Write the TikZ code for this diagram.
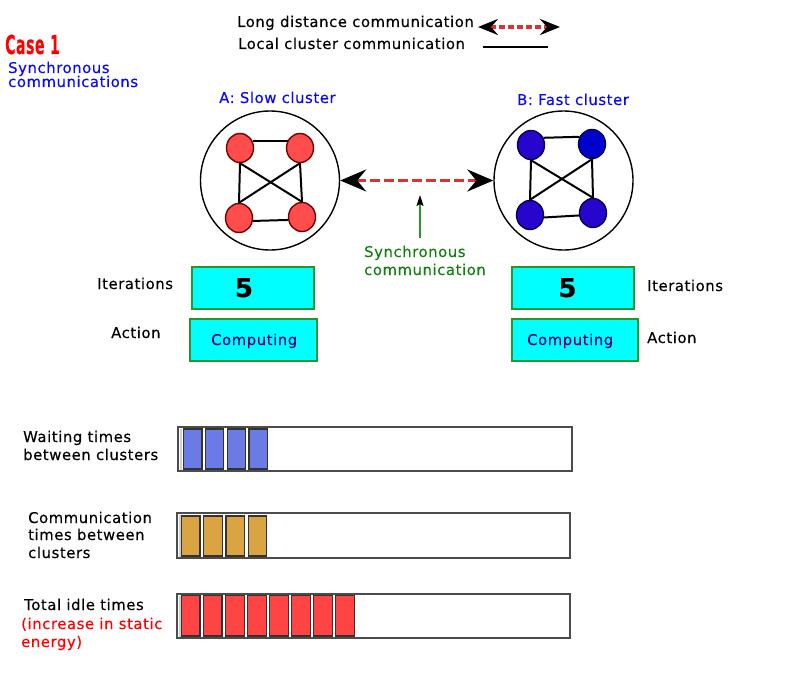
\documentclass[tikz,border=0pt]{standalone}
\usepackage{fontspec}
\setmainfont{DejaVu Sans}[LetterSpace=4,FakeBold=0.35]
\usetikzlibrary{arrows.meta,shapes.geometric}
\definecolor{txtblue}{RGB}{10,10,240}
\definecolor{txtgreen}{RGB}{17,128,17}
\definecolor{compblue}{RGB}{0,0,140}
\definecolor{dashred}{RGB}{220,50,50}
\definecolor{boxgreen}{RGB}{40,150,40}
\definecolor{boxcyan}{RGB}{0,255,255}
\definecolor{nodered}{RGB}{255,76,76}
\definecolor{noderedb}{RGB}{120,0,0}
\definecolor{nodeblueA}{RGB}{40,5,204}
\definecolor{nodeblueB}{RGB}{0,0,204}
\definecolor{nodeblueb}{RGB}{0,0,80}
\definecolor{waitblue}{RGB}{106,123,230}
\definecolor{commgold}{RGB}{217,164,65}
\definecolor{idlered}{RGB}{255,68,68}
\begin{document}
\begin{tikzpicture}[x=1pt,y=-1pt,
  lbl/.style={anchor=base west, inner sep=0, font=\fontsize{14.8}{17}\selectfont},
  cluster/.style={circle, draw=black, fill=white, line width=1.4, minimum size=139, inner sep=0},
  rnode/.style={ellipse, draw=noderedb, fill=nodered, line width=1.4, minimum width=27, minimum height=29, inner sep=0},
  bnode/.style={ellipse, draw=nodeblueb, fill=nodeblueA, line width=1.4, minimum width=27, minimum height=29, inner sep=0},
  edge/.style={draw=black, line width=2},
  cbox/.style={rectangle, draw=boxgreen, fill=boxcyan, line width=1.6, inner sep=0},
  longcomm/.style={draw=dashred, line width=3.2, dash pattern=on 10pt off 4pt},
  barout/.style={draw=black!70, line width=2},
  barin/.style={draw=black!18, line width=2},
  blk/.style={draw=black!80, line width=1.2}
]
\useasboundingbox (0,0) rectangle (800,698);

% Title
\node[anchor=base west, inner sep=0, text=red] (case) at (5,54)
  {\scalebox{0.54}[1]{\fontsize{26}{26}\selectfont\bfseries Case 1}};
\node[lbl, text=txtblue] (sy1) at (8,73) {Synchronous};
\node[lbl, text=txtblue] (sy2) at (8,87) {communications};

% Legend
\node[lbl] (leg1) at (237,27) {Long distance communication};
\node[lbl] (leg2) at (238,49) {Local cluster communication};
\coordinate (l1a) at (478,27);
\coordinate (l1b) at (560,27);
\draw[longcomm, line width=3.2, dash pattern=on 6pt off 3pt,
  {Stealth[black,length=20pt,width=16pt,inset=7pt]}-{Stealth[black,length=20pt,width=16pt,inset=7pt]}] (l1a) -- (l1b);
\coordinate (l2a) at (483,47);
\coordinate (l2b) at (548,47);
\draw[edge, line width=1.5] (l2a) -- (l2b);

% Cluster titles
\node[lbl, text=txtblue] (tA) at (219,103) {A: Slow cluster};
\node[lbl, text=txtblue] (tB) at (517,105) {B: Fast cluster};

% Cluster A
\node[cluster] (A) at (270,180.5) {};
\node[rnode] (a1) at (240,148) {};
\node[rnode] (a2) at (300,148) {};
\node[rnode] (a3) at (239,218) {};
\node[rnode] (a4) at (302,217) {};
\draw[edge] (a1.30) -- (a2.150);
\draw[edge] (a3.-12) -- (a4.192);
\draw[edge] (a1.south) -- (a3.north);
\draw[edge] (a2.south) -- (a4.north);
\draw[edge] (a1.south) -- (a4.north);
\draw[edge] (a2.south) -- (a3.north);

% Cluster B
\node[cluster] (B) at (563.5,180.5) {};
\node[bnode] (b1) at (531,145) {};
\node[bnode, fill=nodeblueB] (b2) at (592,144) {};
\node[bnode] (b3) at (530,215) {};
\node[bnode] (b4) at (593,213) {};
\draw[edge] (b1.30) -- (b2.150);
\draw[edge] (b3.-10) -- (b4.190);
\draw[edge] (b1.south) -- (b3.north);
\draw[edge] (b2.south) -- (b4.north);
\draw[edge] (b1.south) -- (b4.north);
\draw[edge] (b2.south) -- (b3.north);

% Long distance communication between clusters
\draw[longcomm,
  {Stealth[black,length=26pt,width=22pt,inset=9pt]}-{Stealth[black,length=26pt,width=22pt,inset=9pt]}] (A.east) -- (B.west);

% Synchronous communication label + arrow
\node[lbl, text=txtgreen] (sc1) at (364,257) {Synchronous};
\node[lbl, text=txtgreen] (sc2) at (364,275) {communication};
\coordinate (gbase) at (420,238);
\coordinate (gtip) at (420,195);
\draw[draw=boxgreen, line width=1.6, -{Stealth[black,length=11pt,width=7pt,inset=2pt]}] (gbase) -- (gtip);

% Boxes A
\node[cbox, minimum width=122, minimum height=42] (itA) at (253,288) {};
\node[anchor=base, inner sep=0, font=\fontsize{26}{26}\selectfont\bfseries] (fiveA) at (244,297) {5};
\node[cbox, minimum width=127, minimum height=42] (acA) at (253.5,340) {};
\node[lbl, text=compblue] (cpA) at (211,345) {Computing};
\node[lbl] (iterA) at (97,289) {Iterations};
\node[lbl] (actA) at (111,338) {Action};

% Boxes B
\node[cbox, minimum width=122, minimum height=42] (itB) at (573,288) {};
\node[anchor=base, inner sep=0, font=\fontsize{26}{26}\selectfont\bfseries] (fiveB) at (567.5,297) {5};
\node[cbox, minimum width=126, minimum height=42] (acB) at (575,340) {};
\node[lbl, text=compblue] (cpB) at (527,345) {Computing};
\node[lbl] (iterB) at (647,291) {Iterations};
\node[lbl] (actB) at (647,343) {Action};

% Bars
\draw[barout] (178,427) rectangle (572,471);
\draw[barin] (181,428.5) -- (181,469.5);
\foreach \i in {0,...,3}
  \draw[blk, fill=waitblue] (183.5+21.8*\i,429) rectangle ++(18.5,40);

\draw[barout] (177,513) rectangle (570,558);
\draw[barin] (180,514.5) -- (180,556.5);
\foreach \i in {0,...,3}
  \draw[blk, fill=commgold] (181.5+22.2*\i,516) rectangle ++(18.5,40);

\draw[barout] (177,594) rectangle (570,638);
\draw[barin] (180,595.5) -- (180,636.5);
\foreach \i in {0,...,7}
  \draw[blk, fill=idlered] (181.5+22.05*\i,595.5) rectangle ++(18.5,40.5);

% Bar labels
\node[lbl] (w1) at (23,442) {Waiting times};
\node[lbl] (w2) at (23,460) {between clusters};
\node[lbl] (c1) at (28,523) {Communication};
\node[lbl] (c2) at (28,540) {times between};
\node[lbl] (c3) at (28,558) {clusters};
\node[lbl] (i1) at (24,610) {Total idle times};
\node[lbl, text=red] (i2) at (21,629) {(increase in static};
\node[lbl, text=red] (i3) at (21,647) {energy)};
\end{tikzpicture}
\end{document}
